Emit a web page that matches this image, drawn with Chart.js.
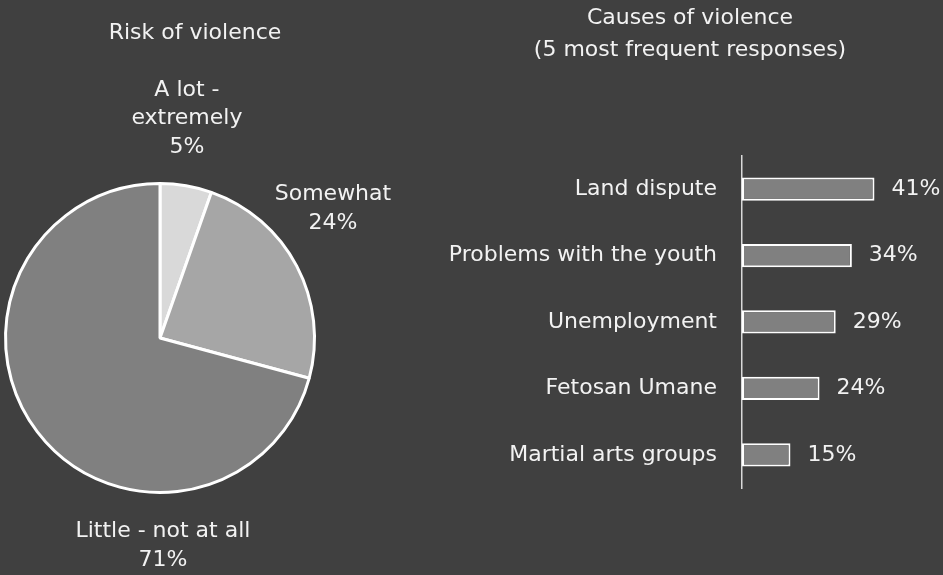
<!DOCTYPE html>
<html>
<head>
<meta charset="utf-8">
<title>Risk and causes of violence</title>
<script src="https://cdn.jsdelivr.net/npm/chart.js@4.4.1/dist/chart.umd.min.js"></script>
<style>
html, body { margin: 0; padding: 0; background: #404040; }
body { width: 943px; height: 575px; position: relative; overflow: hidden; }
#pie { position: absolute; left: 0; top: 0; }
#bars { position: absolute; left: 437px; top: 0; }
</style>
</head>
<body>
<canvas id="pie" width="420" height="575"></canvas>
<canvas id="bars" width="506" height="575"></canvas>
<script>
//Risk of violence (pie)
const riskLabels = ['A lot -\nextremely', 'Somewhat', 'Little - not at all'];
const riskValues = [5.4, 23.8, 70.8];
const riskColours = ['#d9d9d9', '#a6a6a6', '#808080'];

//Causes of violence (bars)
const causeLabels = ['Land dispute', 'Problems with the youth', 'Unemployment', 'Fetosan Umane', 'Martial arts groups'];
const causeValues = [41, 34, 29, 24, 15];

const textColour = '#f2f2f2';
const fontFamily = '"DejaVu Sans", sans-serif';
const fontWeight = 'normal';

Chart.defaults.font.family = fontFamily;
Chart.defaults.font.size = 22;
Chart.defaults.font.weight = fontWeight;
Chart.defaults.color = textColour;
Chart.defaults.animation = false;

//Labels sit outside the pie, placed by angle (deg from top) and distance from centre
const pieLabels = {
    id: 'pieLabels',
    afterDraw(chart, args, opts) {
        const ctx = chart.ctx;
        const meta = chart.getDatasetMeta(0);
        ctx.save();
        ctx.font = fontWeight + ' 22px ' + fontFamily;
        ctx.fillStyle = textColour;
        ctx.textAlign = 'center';
        ctx.textBaseline = 'middle';

        ctx.fillText(opts.title, opts.titleX, opts.titleY);

        meta.data.forEach(function(arc, i) {
            const a = opts.angles[i] * Math.PI / 180;
            const d = opts.distances[i];
            const cx = arc.x + Math.sin(a) * d;
            const cy = arc.y - Math.cos(a) * d;
            const lines = riskLabels[i].split('\n').concat(Math.round(riskValues[i]) + '%');
            const top = cy - (lines.length - 1) * opts.lineHeight / 2;
            for (var j = 0; j < lines.length; j++) {
                ctx.fillText(lines[j], cx, top + j * opts.lineHeight);
            }
        });
        ctx.restore();
    }
};

new Chart(document.getElementById('pie'), {
    type: 'pie',
    data: {
        labels: riskLabels,
        datasets: [{
            data: riskValues,
            backgroundColor: riskColours,
            borderColor: '#ffffff',
            borderWidth: 3
        }]
    },
    options: {
        responsive: false,
        layout: { padding: { left: 4, right: 104, top: 182, bottom: 81 } },
        plugins: {
            legend: { display: false },
            tooltip: { enabled: false },
            pieLabels: {
                title: 'Risk of violence',
                titleX: 195,
                titleY: 33,
                angles: [7, 53.2, 179.2],
                distances: [221, 216, 208],
                lineHeight: 28.5
            }
        }
    },
    plugins: [pieLabels]
});

//Percent labels to the right of each bar
const barValues = {
    id: 'barValues',
    afterDatasetsDraw(chart) {
        const ctx = chart.ctx;
        const meta = chart.getDatasetMeta(0);
        ctx.save();
        ctx.font = fontWeight + ' 22px ' + fontFamily;
        ctx.fillStyle = textColour;
        ctx.textAlign = 'left';
        ctx.textBaseline = 'middle';
        meta.data.forEach(function(bar, i) {
            ctx.fillText(causeValues[i] + '%', bar.x + 17, bar.y);
        });
        ctx.restore();
    }
};

new Chart(document.getElementById('bars'), {
    type: 'bar',
    data: {
        labels: causeLabels,
        datasets: [{
            data: causeValues,
            backgroundColor: '#808080',
            borderColor: '#ffffff',
            borderWidth: 2,
            borderSkipped: false,
            barPercentage: 0.35,
            categoryPercentage: 1
        }]
    },
    options: {
        responsive: false,
        indexAxis: 'y',
        layout: { padding: { left: 0, right: 0, top: 0, bottom: 87 } },
        scales: {
            x: { display: false, min: 0, max: 62.2 },
            y: {
                grid: { display: false, drawTicks: false },
                border: { display: true, color: '#d9d9d9', width: 1.5 },
                ticks: { padding: 25, color: textColour, font: { size: 22 } },
                afterFit: function(scale) { scale.width = 305; }
            }
        },
        plugins: {
            legend: { display: false },
            tooltip: { enabled: false },
            title: {
                display: true,
                text: ['Causes of violence', '(5 most frequent responses)'],
                color: textColour,
                font: { size: 22, weight: fontWeight, lineHeight: 1.43 },
                padding: { top: 3, bottom: 90 }
            }
        }
    },
    plugins: [barValues]
});
</script>
</body>
</html>
